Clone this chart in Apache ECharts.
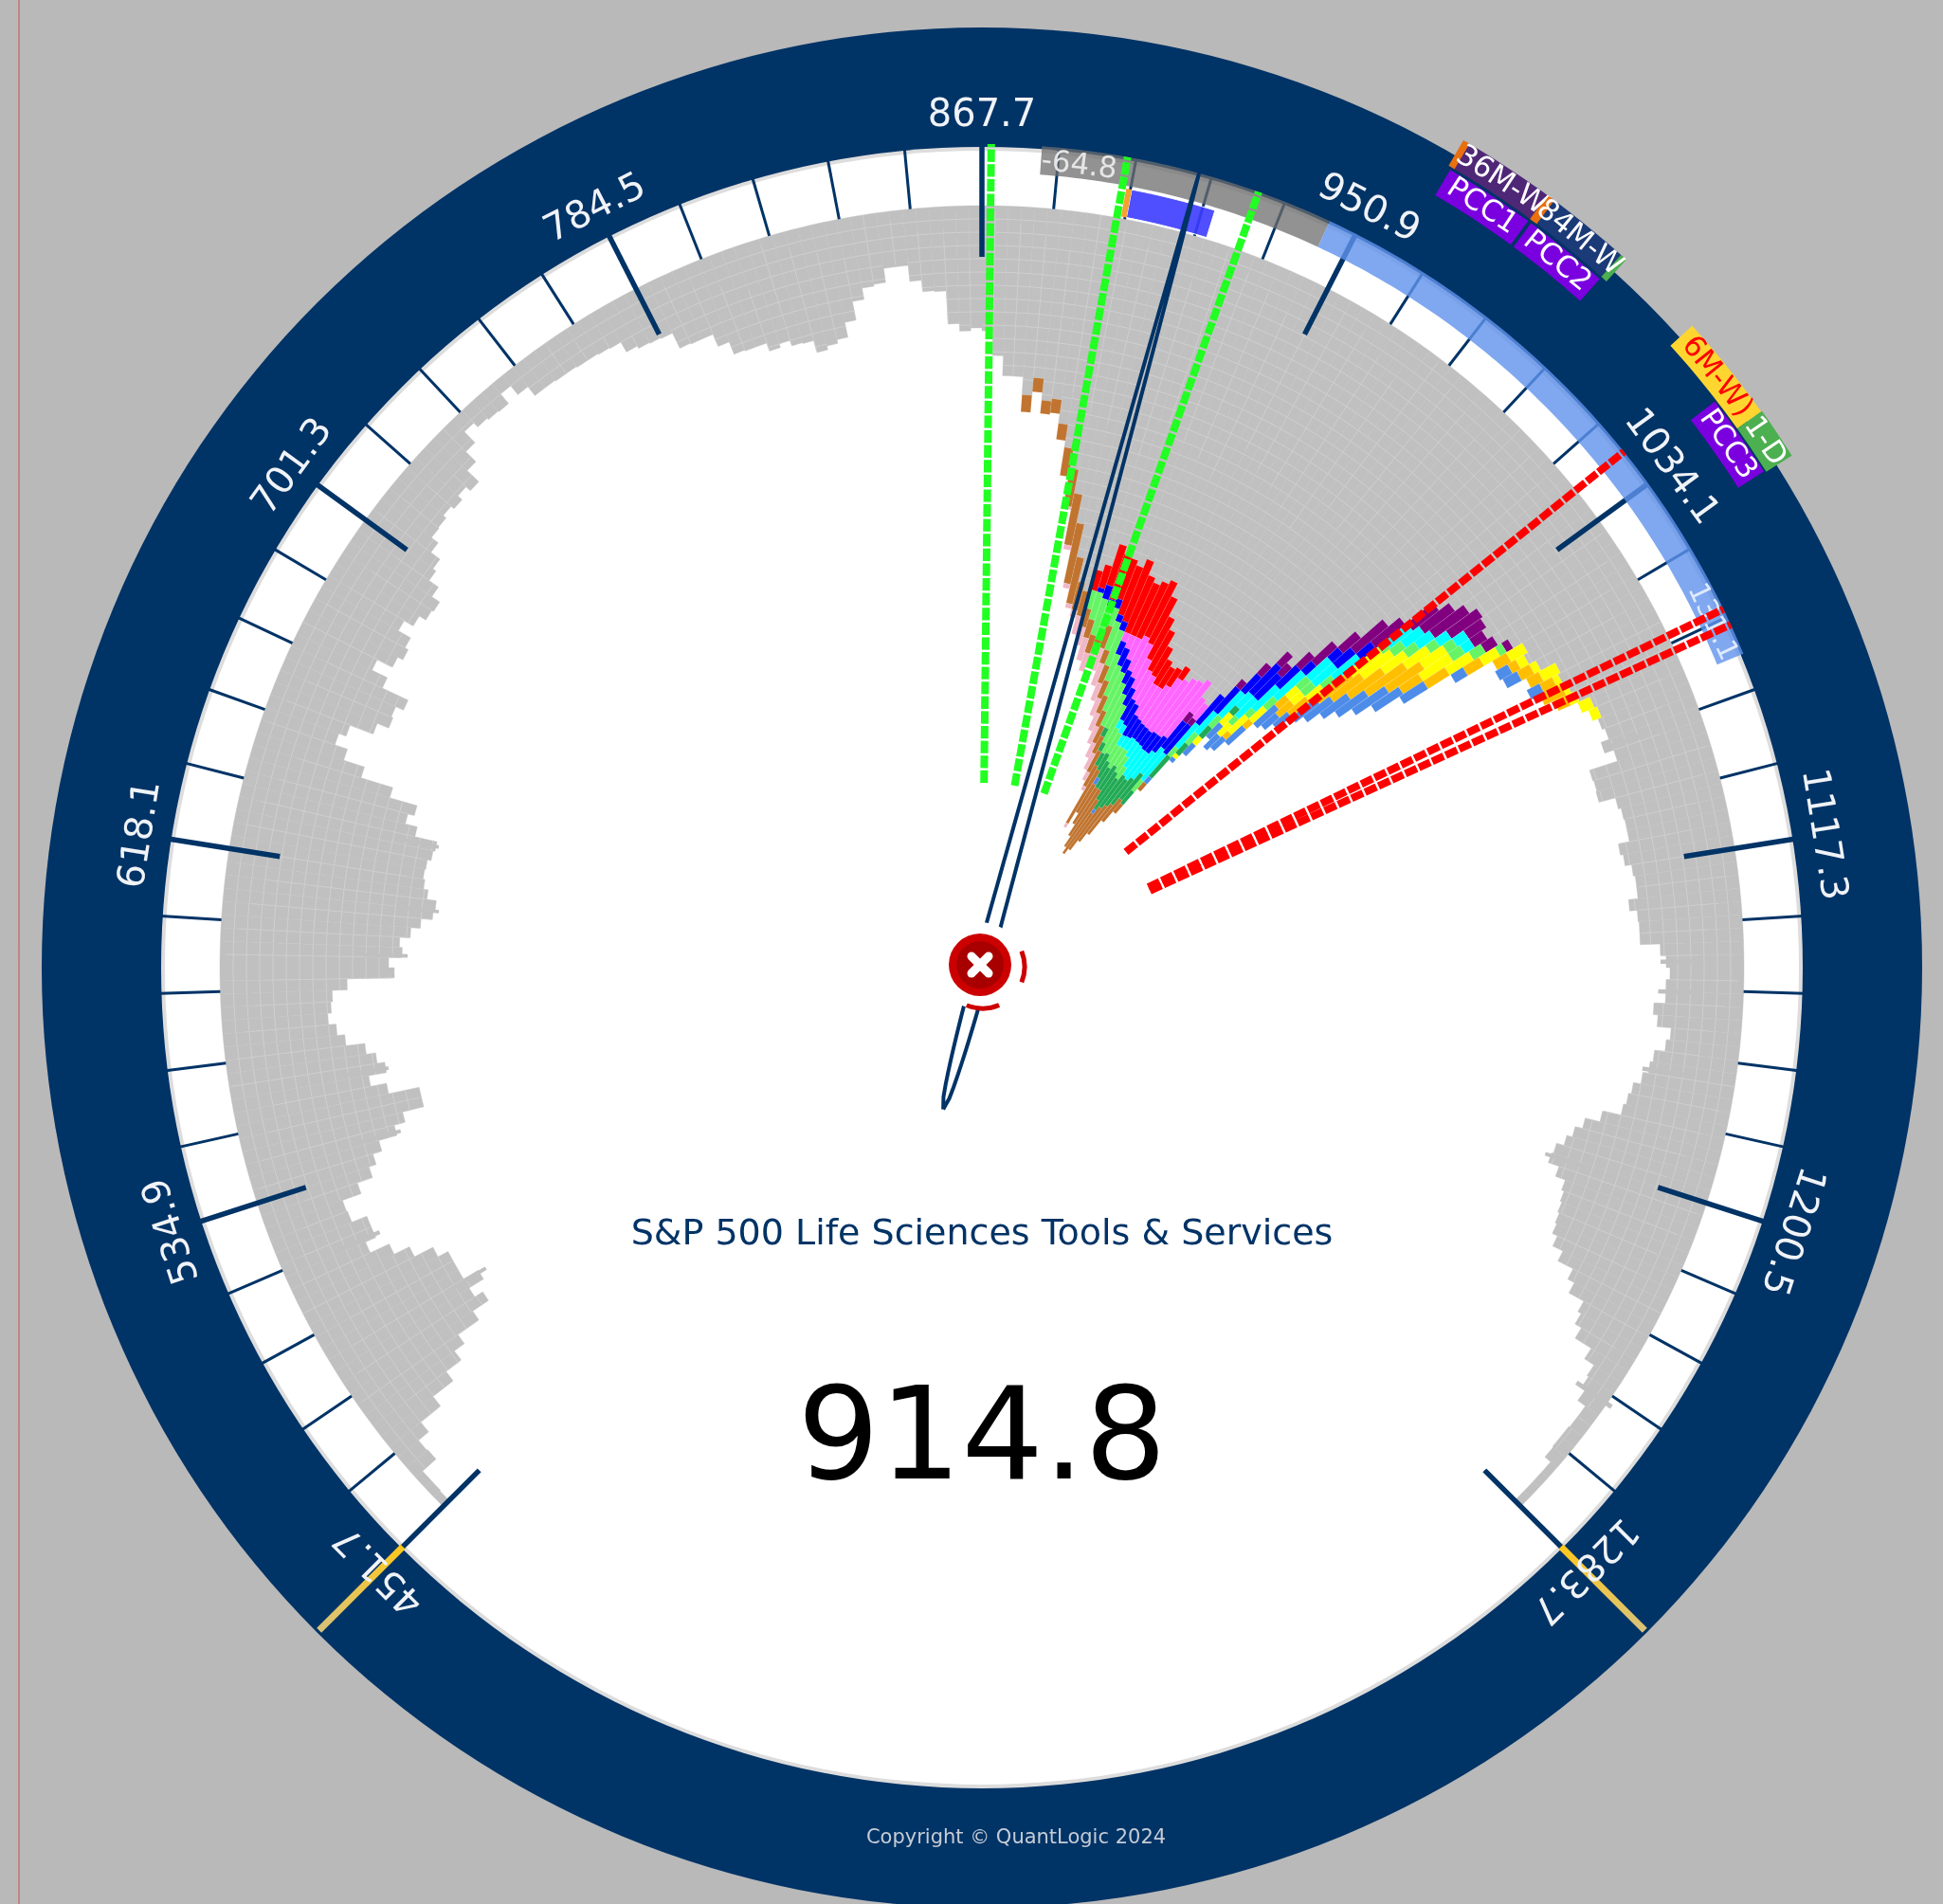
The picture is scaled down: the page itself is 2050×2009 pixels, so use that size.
<!DOCTYPE html>
<html><head><meta charset="utf-8">
<script src="https://cdn.jsdelivr.net/npm/echarts@6/dist/echarts.min.js"></script>
<style>html,body{margin:0;padding:0;background:#b9b9b9}#c{width:2050px;height:2009px}</style>
</head><body><div id="c"></div>
<script>
// ---------- data ----------
const indexName = 'S&P 500 Life Sciences Tools & Services';
const lastValue = 914.8;
const copyrightText = 'Copyright © QuantLogic 2024';
const axisMin = 451.7, axisMax = 1283.7;
const majorTicks = [451.7,534.9,618.1,701.3,784.5,867.7,950.9,1034.1,1117.3,1200.5,1283.7];
const greenLevels = [869.7,899.1,928.2];
const redLevels = [1025.5,1065.5,1069.2];
// inner end of the grey profile, one per price bin from axisMin to axisMax
const grayInner = [
795,794,794,775,776,762,735,708,688,675,
648,628,638,620,638,638,638,650,672,690,
712,700,700,717,718,697,680,672,662,642,
630,607,607,640,657,638,646,656,676,684,
692,688,686,670,620,626,612,615,604,594,
582,580,590,595,597,596,592,590,614,627,
620,650,685,708,722,714,688,675,677,668,
698,716,698,692,696,711,700,692,690,700,
712,716,728,737,738,742,738,744,738,755,
770,786,780,778,777,790,778,766,766,765,
765,764,764,763,762,750,747,746,745,727,
726,726,712,698,697,697,688,692,686,685,
672,676,680,696,716,728,730,745,745,728,
716,715,680,672,675,672,646,625,625,606,
625,602,605,580,556,535,510,480,445,420,
412,437,445,470,462,460,455,465,450,445,
450,455,440,420,408,392,380,375,378,384,
372,378,380,386,368,365,383,410,440,464,
455,480,505,530,560,575,612,625,636,645,
642,636,642,654,665,660,668,685,682,686,
690,702,705,701,704,695,705,674,675,674,
692,695,696,696,684,687,694,696,696,686,
694,695,695,716,722,726,722,722,710,715,
730,726,715,712,706,698,695,692,672,656,
648,642,634,632,644,655,658,660,662,664,
670,682,700,708,726,730,738,758,770,772,
777,787,787,786,786,787,795,795,795,795];
// isolated thin bars that stick out of the profile
const spikePrice = [494.2,517.3,542.0,560.8,594.0,608.5,628.9,1085.3,1143.5,1151.2,1171.8,1201.4,1252.6];
const spikeInner = [612,694,637,635,606,576,587,695,716,714,705,626,765];
const layerFirstBin = 139;
const redLayer = [0,0,0,0,0,0,0,0,0,0, 0,0,22,25,45,50,45,55,70,65, 60,65,65,55,50,48,35,30,25,22, 15,0,0,0,0,0,0,0,0,0, 0,0,0,0,0,0,0,0,0,0, 0,0,0,0,0,0,0,0,0,0, 0,0,0,0];
const magentaLayer = [0,0,0,0,0,0,0,0,0,0, 0,0,0,0,0,0,0,0,0,10, 15,25,40,40,35,35,35,38,40,48, 62,66,70,72,75,20,20,0,0,0, 0,0,0,0,0,0,0,0,0,0, 0,0,0,0,0,0,0,0,0,0, 0,0,0,0];
const purpleLayer = [0,0,0,0,0,0,0,0,0,0, 0,0,0,0,0,0,0,0,0,0, 0,0,0,0,0,0,0,0,0,0, 0,0,0,0,0,12,8,0,10,15, 17,15,20,30,25,45,40,35,40,45, 40,22,16,15,8,0,0,0,0,0, 0,0,0,0];
const blueLayer = [0,0,0,0,0,0,0,0,0,0, 0,0,0,5,15,8,10,8,10,15, 20,15,15,20,20,25,25,25,22,18, 18,18,22,22,20,36,40,40,35,25, 42,35,30,15,15,25,20,0,0,0, 0,0,0,0,0,0,0,0,0,0, 0,0,0,0];
const cyanLayer = [0,0,0,0,0,0,0,0,0,0, 0,0,0,0,0,0,0,0,0,0, 0,0,0,0,0,10,10,12,13,15, 19,28,34,36,36,35,37,33,30,35, 20,28,35,40,30,30,35,30,25,20, 15,15,12,0,0,0,0,0,0,0, 0,0,0,0];
const lightGreenLayer = [0,0,0,0,0,0,0,0,0,0, 0,0,20,30,40,35,20,32,40,30, 35,45,50,40,45,30,25,20,25,20, 20,15,0,0,0,0,15,12,15,15, 0,10,10,15,15,15,15,10,15,15, 12,12,15,15,8,0,0,0,0,0, 0,0,0,0];
const darkGreenLayer = [0,0,0,0,0,0,0,0,0,0, 0,0,0,0,0,0,0,0,0,0, 0,0,0,10,10,15,20,20,25,30, 35,40,42,35,35,35,18,30,15,15, 10,0,0,0,0,0,0,0,0,0, 0,0,0,0,0,0,0,0,0,0, 0,0,0,0];
const yellowLayer = [0,0,0,0,0,0,0,0,0,0, 0,0,0,0,0,0,0,0,0,0, 0,0,0,0,0,0,0,0,0,0, 0,0,0,0,0,0,0,0,5,10, 15,17,25,20,15,15,20,40,40,30, 30,30,38,30,20,20,10,8,20,7, 6,10,14,10];
const orangeLayer = [0,0,0,0,0,0,0,0,0,0, 0,0,0,0,0,0,0,0,0,0, 0,0,0,0,0,0,0,0,0,0, 0,0,0,0,0,0,0,0,0,0, 0,0,8,10,15,20,25,45,40,45, 50,45,25,27,20,17,10,15,15,15, 25,14,0,0];
const cornflowerLayer = [0,0,0,0,0,0,0,0,0,0, 0,0,0,0,0,0,0,0,0,0, 0,0,0,0,0,0,0,8,0,0, 0,5,0,0,0,0,0,8,5,15, 20,20,17,25,30,20,20,32,35,35, 38,42,35,30,15,0,15,17,0,15, 0,0,0,0];
const brownLayer = [18,15,14,15,17,30,40,55,65,50, 30,27,20,20,20,14,25,15,20,20, 20,18,20,20,25,25,65,35,45,58, 60,52,55,47,40,30,12,10,0,0, 0,0,0,0,0,0,0,0,0,0, 0,0,0,0,0,0,0,0,0,0, 0,0,0,0];
const pinkLayer = [0,0,0,0,0,0,3,5,5,5, 8,20,20,25,20,10,25,25,20,20, 20,20,17,19,10,5,5,0,0,0, 0,0,0,0,0,0,0,0,0,0, 0,0,0,0,0,0,0,0,0,0, 0,0,0,0,0,0,0,0,0,0, 0,0,0,0];
// price ranges of the bands on the dial: [from, to]
const drawdownRange = [880.6,944.7], drawdownLabel = '-64.8';
const advanceRange = [944.7,1076.0], advanceLabel = '131.1';
const blueBlockRange = [901.3,920.4];
const orangeBlockRange = [900.05,901.3];
const tagNames = ['36M-W','84M-W','PCC1','PCC2','6M-W)','1-D','PCC3'];
const tagFrom =  [961.4,980.2,961.4,979.9,1015.3,1035.6,1028.9];
const tagTo =    [979.9,997.4,979.2,996.8,1035.6,1045.5,1045.2];

// ---------- styling / geometry ----------
const NAVY='#003366', BG='#b9b9b9';
const binPrice=(axisMax-axisMin)/grayInner.length;
const layers=[[redLayer,'#ff0000'],[magentaLayer,'#ff66ff'],[purpleLayer,'#800080'],[blueLayer,'#0000ff'],
 [cyanLayer,'#00ffff'],[lightGreenLayer,'#66f466'],[darkGreenLayer,'#22aa55'],[yellowLayer,'#ffff00'],
 [orangeLayer,'#ffbf00'],[cornflowerLayer,'#4d8ce8'],[brownLayer,'#c07430'],[pinkLayer,'#f0b8c6']];
const R_PROFILE=804,R_WHITE=862,R_NAVY=992;
const tagStyle=[
 {r0:979,r1:1010,fill:'#4f2777',text:'#fff',edgeL:'#e8700f',edgeR:'#e8700f'},
 {r0:979,r1:1010,fill:'#1a3a78',text:'#fff',edgeL:'#e8700f',edgeR:'#4caf50'},
 {r0:945,r1:976,fill:'#7b00e0',text:'#fff'},
 {r0:945,r1:976,fill:'#7b00e0',text:'#fff'},
 {r0:979,r1:1010,fill:'#ffd630',text:'#ff0000'},
 {r0:979,r1:1011,fill:'#4caf50',text:'#fff'},
 {r0:945,r1:977,fill:'#7b00e0',text:'#fff'}];
const font=(s)=>s+'px "DejaVu Sans"';

function arc(api,r,a0,a1){const n=Math.max(1,Math.ceil(Math.abs(a1-a0)/(binPrice*0.5)));const p=[];
 for(let k=0;k<=n;k++){const c=api.coord([r,a0+(a1-a0)*k/n]);p.push([c[0],c[1]]);}return p;}
function band(api,r0,r1,a0,a1){return arc(api,r1,a0,a1).concat(arc(api,r0,a1,a0));}
function pt(api,r,a){const c=api.coord([r,a]);return [c[0],c[1]];}
function ang(a){return (a-867.7)/(83.2/27)*Math.PI/180;}
function textAt(api,r,a,text,fill,size,align){const p=pt(api,r,a);
 return {type:'text',x:p[0],y:p[1],rotation:-ang(a),style:{text:text,fill:fill,font:font(size),align:align||'center',verticalAlign:'middle'}};}
function seg(api,r0,r1,a,stroke,w,cap){const p=pt(api,r0,a),q=pt(api,r1,a);
 return {type:'line',shape:{x1:p[0],y1:p[1],x2:q[0],y2:q[1]},style:{stroke:stroke,lineWidth:w,lineCap:cap||'butt'}};}

const custom=(name,z,data,renderItem)=>({type:'custom',name,coordinateSystem:'polar',z,silent:true,animation:false,clip:false,data,renderItem});

const series=[];
// dial discs
series.push(custom('dial',1,[[0,867.7]],(p,api)=>{const c=pt(api,0,867.7);
 const d=(r,f)=>({type:'circle',shape:{cx:c[0],cy:c[1],r},style:{fill:f}});
 return {type:'group',children:[d(R_NAVY,NAVY),d(R_WHITE+4,'#dddddd'),d(R_WHITE,'#ffffff')]};}));
// grey profile
series.push(custom('profile',2,grayInner.map((r,i)=>[r,axisMin+i*binPrice,i]),(p,api)=>{
 const r=api.value(0),a=api.value(1),i=api.value(2),kids=[];
 kids.push({type:'polygon',shape:{points:band(api,r,R_PROFILE,a,a+binPrice)},style:{fill:'#c0c0c0',stroke:'#c0c0c0',lineWidth:0.4}});
 for(let q=R_PROFILE-14;q>r+3;q-=14){kids.push({type:'polyline',shape:{points:arc(api,q,a,a+binPrice)},style:{stroke:'#d0d0d0',fill:null,lineWidth:1}});}
 const rr=R_PROFILE-(i%9)*6;
 if(i%2===0&&rr>r+4){kids.push(seg(api,Math.max(r+2,rr-190),rr,a,'#cecece',0.9));}
 return {type:'group',children:kids};}));
series.push(custom('spikes',2,spikePrice.map((v,i)=>[spikeInner[i],v]),(p,api)=>{const a=api.value(1),r=api.value(0);
 return {type:'polygon',shape:{points:band(api,r,r+45,a-0.55,a+0.55)},style:{fill:'#c0c0c0'}};}));
// coloured stack
const cells=[];
layers.forEach((l,li)=>l[0].forEach((t,j)=>{if(t>0){let r=grayInner[layerFirstBin+j];for(let m=0;m<li;m++)r-=layers[m][0][j];
 cells.push([r-t,axisMin+(layerFirstBin+j)*binPrice,r,li]);}}));
series.push(custom('stack',3,cells,(p,api)=>{const a=api.value(1);
 return {type:'polygon',shape:{points:band(api,api.value(0),api.value(2),a,a+binPrice)},
  style:{fill:layers[api.value(3)][1],stroke:'rgba(255,255,255,0.18)',lineWidth:0.5}};}));
// ticks
const tickVals=[];majorTicks.forEach((m,i)=>{tickVals.push([m,1]);if(i<majorTicks.length-1)for(let k=1;k<5;k++)tickVals.push([+(m+k*(majorTicks[1]-majorTicks[0])/5).toFixed(2),0]);});
series.push(custom('ticks',4,tickVals.map(t=>[R_WHITE,t[0],t[1]]),(p,api)=>{const a=api.value(1),maj=api.value(2);
 return maj?seg(api,750,R_WHITE+6,a,NAVY,5.5):seg(api,R_PROFILE,R_WHITE+6,a,NAVY,3);}));
// bands
series.push(custom('bands',5,[[R_WHITE,drawdownRange[0]]],(p,api)=>({type:'group',children:[
 {type:'polygon',shape:{points:band(api,839,869,drawdownRange[0],drawdownRange[1])},style:{fill:'rgba(110,110,110,0.75)'}},
 {type:'polygon',shape:{points:band(api,839,869,advanceRange[0],advanceRange[1])},style:{fill:'rgba(95,146,236,0.8)'}},
 {type:'polygon',shape:{points:band(api,806,836,blueBlockRange[0],blueBlockRange[1])},style:{fill:'rgba(60,60,255,0.9)',stroke:'#fff',lineWidth:1}},
 {type:'polygon',shape:{points:band(api,806,836,orangeBlockRange[0],orangeBlockRange[1])},style:{fill:'#f5a030'}},
 textAt(api,852,889,drawdownLabel,'#e6e6e6',31),
 textAt(api,852,1067,advanceLabel,'#dfe9fb',30)]})));
// level lines
const lineSeries=(v,color,z)=>({type:'line',coordinateSystem:'polar',z,silent:true,animation:false,symbol:'none',clip:false,
 data:[[195,v],[869,v]],lineStyle:{color,width:8,type:[13.2,2.4]}});
greenLevels.forEach(v=>series.push(lineSeries(v,'#22ff22',6)));
redLevels.forEach(v=>series.push(lineSeries(v,'#ff0000',6)));
// needle
series.push(custom('needle',7,[[R_WHITE,lastValue]],(p,api)=>{
 const a=api.value(1),th=ang(a),nx=Math.cos(th),ny=Math.sin(th),c=pt(api,0,a),ux=Math.sin(th),uy=-Math.cos(th);
 const L=[],R=[],tip=868,tail=155;
 for(let k=0;k<=80;k++){const s=-tail+(tip+tail)*k/80;
  const h=s>=0?8*Math.pow(1-s/tip,0.75):8*Math.sqrt(Math.max(0,1-(s/tail)*(s/tail)));
  L.push([c[0]+ux*s-nx*h,c[1]+uy*s-ny*h]);R.push([c[0]+ux*s+nx*h,c[1]+uy*s+ny*h]);}
 return {type:'polyline',shape:{points:L.concat(R.reverse())},style:{stroke:NAVY,fill:null,lineWidth:4,lineJoin:'round'}};}));
// hub
series.push(custom('hub',8,[[0,lastValue]],(p,api)=>{const c=pt(api,0,867.7),x=c[0]-2,y=c[1]-3;
 const arcEl=(s,e)=>({type:'arc',shape:{cx:c[0]+1,cy:c[1]-1,r:44,startAngle:s,endAngle:e},style:{stroke:'#cc0000',lineWidth:5,fill:null}});
 const cross=(dx,dy)=>({type:'line',shape:{x1:x-dx,y1:y-dy,x2:x+dx,y2:y+dy},style:{stroke:'#fff',lineWidth:9,lineCap:'round'}});
 return {type:'group',children:[
  {type:'circle',shape:{cx:x,cy:y+1,r:46},style:{fill:'#fff'}},
  arcEl(-0.38,0.38),arcEl(1.17,1.97),
  {type:'circle',shape:{cx:x,cy:y+1,r:42},style:{fill:'#fff'}},
  {type:'circle',shape:{cx:x,cy:y,r:33},style:{fill:'#cc0000'}},
  {type:'circle',shape:{cx:x,cy:y,r:25},style:{fill:'#a80000'}},
  cross(9,9),cross(9,-9)]};}));
// tick labels
series.push(custom('labels',9,majorTicks.map(v=>[898,v]),(p,api)=>{const a=api.value(1);
 return textAt(api,898,a,a.toFixed(1),'#f0f3f7',40);}));
// gold end ticks
series.push(custom('ends',5,[[R_WHITE,axisMin],[R_WHITE,axisMax]],(p,api)=>{const a=api.value(1),s=pt(api,R_WHITE+2,a),e=pt(api,989,a);
 return {type:'line',shape:{x1:s[0],y1:s[1],x2:e[0],y2:e[1]},style:{lineWidth:7,
  stroke:new echarts.graphic.LinearGradient(s[0],s[1],e[0],e[1],[{offset:0,color:'#ffc81e'},{offset:1,color:'#d8c27a'}],true)}};}));
// tags
series.push(custom('tags',10,tagNames.map((n,i)=>[tagStyle[i].r0,tagFrom[i],i]),(p,api)=>{const i=api.value(2),s=tagStyle[i],f=tagFrom[i],t=tagTo[i],kids=[];
 kids.push({type:'polygon',shape:{points:band(api,s.r0,s.r1,f,t)},style:{fill:s.fill}});
 const edge=1.3;
 if(s.edgeL)kids.push({type:'polygon',shape:{points:band(api,s.r0,s.r1,f-edge/2,f+edge/2)},style:{fill:s.edgeL}});
 if(s.edgeR)kids.push({type:'polygon',shape:{points:band(api,s.r0,s.r1,t-edge/2,t+edge/2)},style:{fill:s.edgeR}});
 kids.push(textAt(api,(s.r0+s.r1)/2,(f+t)/2,tagNames[i],s.text,31));
 return {type:'group',children:kids};}));

const option={animation:false,backgroundColor:BG,
 polar:{center:[1036,1021],radius:1100},
 angleAxis:{type:'value',min:axisMin,max:axisMax,startAngle:225,endAngle:-45,clockwise:true,show:false,axisLine:{show:false},axisTick:{show:false},axisLabel:{show:false},splitLine:{show:false}},
 radiusAxis:{type:'value',min:0,max:1100,show:false,axisLine:{show:false},axisTick:{show:false},axisLabel:{show:false},splitLine:{show:false}},
 series,
 graphic:[
  {type:'line',z:100,shape:{x1:20,y1:0,x2:20,y2:2009},style:{stroke:'#c85050',lineWidth:1}},
  {type:'text',z:100,x:1036,y:1303,style:{text:indexName,fill:NAVY,font:font(38),align:'center',verticalAlign:'middle'}},
  {type:'text',z:100,x:1036,y:1525,style:{text:lastValue.toFixed(1),fill:'#000',font:font(136),align:'center',verticalAlign:'middle'}},
  {type:'text',z:100,x:1072,y:1940,style:{text:copyrightText,fill:'#c4ccd6',font:font(21),align:'center',verticalAlign:'middle'}}
 ]};
const chart=echarts.init(document.getElementById('c'),null,{renderer:'canvas'});
chart.setOption(option);
</script></body></html>
